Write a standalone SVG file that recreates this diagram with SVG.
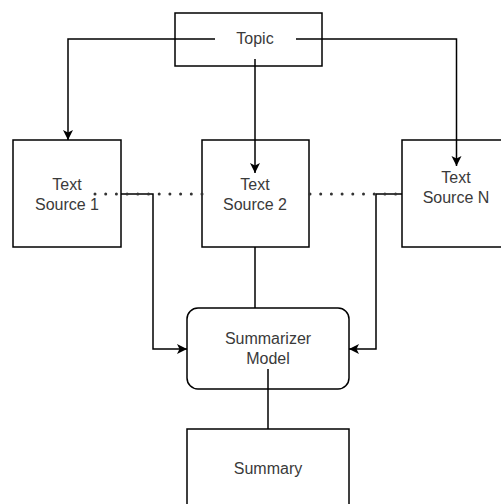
<svg xmlns="http://www.w3.org/2000/svg" width="501" height="504" viewBox="0 0 501 504">
<style>
.box{fill:#fff;stroke:#000;stroke-width:1.5}
.ln{fill:none;stroke:#000;stroke-width:1.5}
.dot{fill:none;stroke:#333;stroke-width:3;stroke-linecap:round;stroke-dasharray:0 10.7}
text{font-family:"Liberation Sans",Arial,sans-serif;font-size:16px;fill:#3a3a3a;text-anchor:middle}
</style>
<defs>
<marker id="arr" viewBox="0 0 10 11" refX="10" refY="5.5" markerWidth="10" markerHeight="11" markerUnits="userSpaceOnUse" orient="auto">
<path d="M0,0.5 L10,5.5 L0,10.5 L2.5,5.5 Z" fill="#000"/>
</marker>
</defs>
<rect width="501" height="504" fill="#fff"/>
<g id="topic"><rect class="box" x="175" y="13" width="147" height="53"/><text x="255" y="44">Topic</text></g>
<g id="src1"><rect class="box" x="13" y="140" width="108" height="107"/><text x="67" y="190">Text</text><text x="67" y="210">Source 1</text></g>
<g id="src2"><rect class="box" x="202" y="140" width="107" height="107"/><text x="255" y="190">Text</text><text x="255" y="210">Source 2</text></g>
<g id="srcN"><rect class="box" x="402" y="140" width="110" height="107"/><text x="456" y="183">Text</text><text x="456" y="203">Source N</text></g>
<g id="model"><rect class="box" x="187" y="308" width="162" height="81" rx="11"/><text x="268" y="344">Summarizer</text><text x="268" y="364">Model</text></g>
<g id="summary"><rect class="box" x="187" y="429" width="162" height="90"/><text x="268" y="474">Summary</text></g>
<g id="connectors">
<path class="ln" d="M215,39 H68 V140" marker-end="url(#arr)"/>
<path class="ln" d="M296,39 H456.5 V166" marker-end="url(#arr)"/>
<path class="ln" d="M255,59 V173" marker-end="url(#arr)"/>
<path class="ln" d="M121,194 H153 V349 H187" marker-end="url(#arr)"/>
<path class="ln" d="M402,194 H376 V349 H349" marker-end="url(#arr)"/>
<path class="ln" d="M255,247 V308"/>
<path class="ln" d="M268,369 V429"/>
<path class="dot" d="M95,194 H202"/>
<path class="dot" d="M310,194 H402"/>
</g>
</svg>
